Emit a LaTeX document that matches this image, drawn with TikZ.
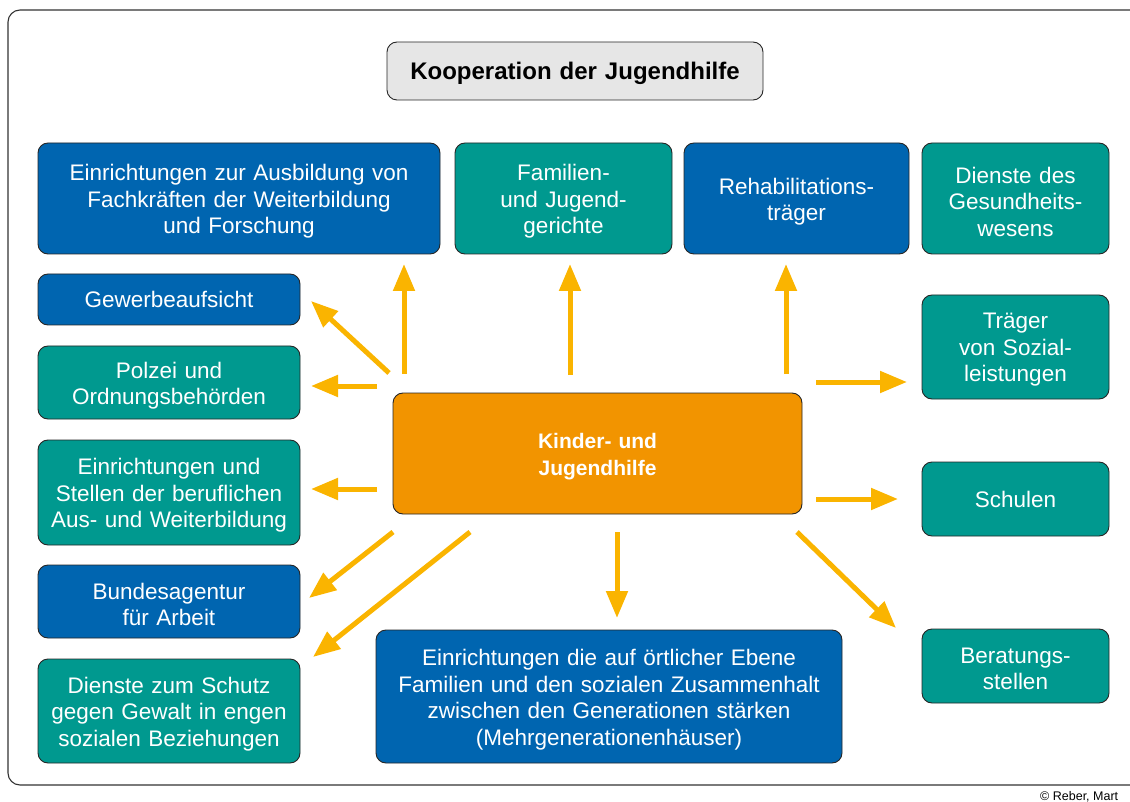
\documentclass[tikz,border=0pt]{standalone}
\usepackage{fontspec}
\setmainfont{Liberation Sans}
\usetikzlibrary{arrows.meta}
\definecolor{kblau}{RGB}{0,101,176}
\definecolor{kgruen}{RGB}{0,153,143}
\definecolor{korange}{RGB}{242,148,0}
\definecolor{kgelb}{RGB}{250,180,0}
\definecolor{kgrau}{RGB}{230,230,230}
\tikzset{
  kasten/.style={draw=black!85, line width=0.9pt, rounded corners=10pt, inner sep=0pt,
    text=white, align=center, font=\fontsize{22.5}{26.5}\selectfont,
    execute at end node={\par\kern-6pt}},
  breite/.style={minimum width=#1, text width={\dimexpr#1-10pt\relax}},
  blaukasten/.style={kasten, fill=kblau},
  gruenkasten/.style={kasten, fill=kgruen},
  pfeil/.style={draw=kgelb, line width=5pt, -{Triangle[length=27pt,width=21pt]}}
}
\begin{document}
\begin{tikzpicture}[x=1pt,y=-1pt]
  \useasboundingbox (0,0) rectangle (1130,802);
  \draw[black!80, line width=1.1pt, rounded corners=12pt] (8,10) rectangle (1145,785);
  \node[kasten, fill=kgrau, text=black, breite=376pt, minimum height=58pt,
    font=\fontsize{24}{28}\selectfont\bfseries] (titel) at (575,71) {Kooperation der Jugendhilfe};
  \node[blaukasten, breite=402pt, minimum height=111pt] (ausbildung) at (239,198.5)
    {Einrichtungen zur Ausbildung von\\Fachkräften der Weiterbildung\\und Forschung};
  \node[gruenkasten, breite=217pt, minimum height=111pt] (gerichte) at (563.5,198.5)
    {Familien-\\und Jugend-\\gerichte};
  \node[blaukasten, breite=225pt, minimum height=111pt] (reha) at (796.5,198.5)
    {Rehabilitations-\\träger};
  \node[gruenkasten, breite=187pt, minimum height=111pt] (gesundheit) at (1015.5,198.5)
    {Dienste des\\Gesundheits-\\wesens};
  \node[blaukasten, breite=262pt, minimum height=51pt] (gewerbe) at (169,299.5)
    {Gewerbeaufsicht};
  \node[gruenkasten, breite=262pt, minimum height=73pt] (polizei) at (169,382.5)
    {Polzei und\\Ordnungsbehörden};
  \node[gruenkasten, breite=262pt, minimum height=105pt] (beruf) at (169,492.5)
    {Einrichtungen und\\Stellen der beruflichen\\Aus- und Weiterbildung};
  \node[blaukasten, breite=262pt, minimum height=73pt] (agentur) at (169,601.5)
    {Bundesagentur\\für Arbeit};
  \node[gruenkasten, breite=262pt, minimum height=104pt] (schutz) at (169,711)
    {Dienste zum Schutz\\gegen Gewalt in engen\\sozialen Beziehungen};
  \node[kasten, fill=korange, breite=409pt, minimum height=121pt,
    font=\fontsize{21}{26.5}\selectfont\bfseries] (hilfe) at (597.5,453.5)
    {Kinder- und\\Jugendhilfe};
  \node[blaukasten, breite=466pt, minimum height=133pt] (oertlich) at (609,696.5)
    {Einrichtungen die auf örtlicher Ebene\\Familien und den sozialen Zusammenhalt\\zwischen den Generationen stärken\\(Mehrgenerationenhäuser)};
  \node[gruenkasten, breite=187pt, minimum height=104pt] (traeger) at (1015.5,347)
    {Träger\\von Sozial-\\leistungen};
  \node[gruenkasten, breite=187pt, minimum height=74pt] (schulen) at (1015.5,499)
    {Schulen};
  \node[gruenkasten, breite=187pt, minimum height=74pt] (beratung) at (1015.5,666)
    {Beratungs-\\stellen};
  \node[anchor=west, inner sep=0pt, font=\fontsize{12.5}{14}\selectfont] (quelle) at (1040,797)
    {© Reber, Mart};
  \coordinate (a1) at (404,374);  \coordinate (b1) at (404,264);
  \coordinate (a2) at (389,373);  \coordinate (b2) at (311,301);
  \coordinate (a3) at (377,386);  \coordinate (b3) at (311,386);
  \coordinate (a4) at (377,489);  \coordinate (b4) at (311,489);
  \coordinate (a5) at (570,375);  \coordinate (b5) at (570,264);
  \coordinate (a6) at (786,374);  \coordinate (b6) at (786,264);
  \coordinate (a7) at (816,382);  \coordinate (b7) at (907,382);
  \coordinate (a8) at (816,499);  \coordinate (b8) at (898,499);
  \coordinate (a9) at (797,532);  \coordinate (b9) at (896,628);
  \coordinate (a10) at (617,532); \coordinate (b10) at (617,618);
  \coordinate (a11) at (393,532); \coordinate (b11) at (309,598);
  \coordinate (a12) at (470,532); \coordinate (b12) at (313,657);
  \foreach \i in {1,...,12}
    \draw[pfeil] (a\i) -- (b\i);
\end{tikzpicture}
\end{document}
